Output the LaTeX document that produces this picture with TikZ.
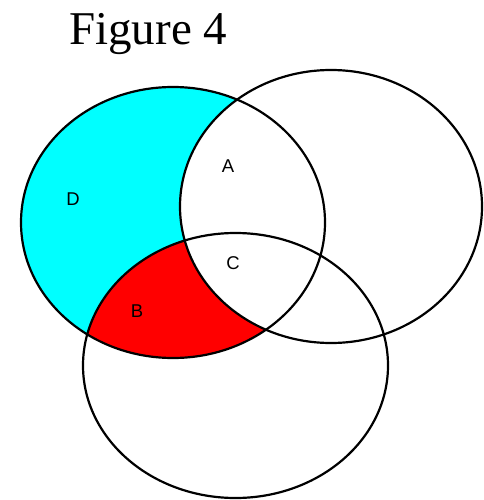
\documentclass[tikz,border=0pt]{standalone}
\usepackage{fontspec}
\setmainfont{Liberation Serif}
\newfontfamily\labelfont{Liberation Sans}
\definecolor{aqua}{RGB}{0,255,255}
\definecolor{pure red}{RGB}{255,0,0}
\begin{document}
\begin{tikzpicture}[x=1pt,y=1pt,
  outline/.style={draw=black,line width=2.2pt},
  region/.style={font=\labelfont\fontsize{18.5}{18.5}\selectfont,inner sep=0pt},
  title/.style={font=\fontsize{47}{47}\selectfont,inner sep=0pt,anchor=base west}]
\useasboundingbox[fill=white] (0,0) rectangle (483,-500);
\def\leftE{(173,-222.5) ellipse [x radius=152,y radius=135.5]}
\def\rightE{(331,-206.5) ellipse [x radius=151,y radius=136.5]}
\def\bottomE{(235.5,-365.5) ellipse [x radius=152.5,y radius=132.5]}
% cyan part of left ellipse
\fill[aqua] \leftE;
\begin{scope}
  \clip \leftE;
  \fill[pure red] \bottomE;
  \fill[white] \rightE;
\end{scope}
\draw[outline] \leftE;
\draw[outline] \rightE;
\draw[outline] \bottomE;
\node[title] (t) at (69,-45) {Figure 4};
\node[region] (a) at (228,-166) {A};
\node[region] (d) at (73,-199) {D};
\node[region] (c) at (233,-263) {C};
\node[region] (b) at (137,-311) {B};
\end{tikzpicture}
\end{document}
